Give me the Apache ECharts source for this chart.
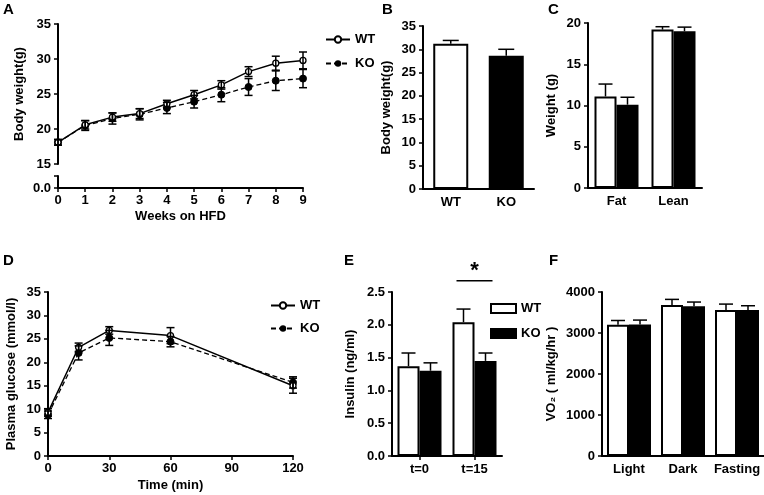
<!DOCTYPE html>
<html><head><meta charset="utf-8">
<script src="https://cdn.jsdelivr.net/npm/echarts@6/dist/echarts.min.js"></script>
<style>html,body{margin:0;padding:0;background:#fff}#c{width:764px;height:495px}</style>
</head><body><div id="c"></div>
<script>
// ---- Panel A: body weight on HFD ----
const weeks = [0, 1, 2, 3, 4, 5, 6, 7, 8, 9];
const bwWT = [18.1, 20.6, 21.7, 22.2, 23.6, 24.9, 26.3, 28.2, 29.4, 29.8];
const bwKO = [18.1, 20.5, 21.5, 22.1, 23.0, 23.9, 24.9, 26.0, 26.9, 27.2];
const bwWTErr = [0.4, 0.6, 0.6, 0.7, 0.5, 0.6, 0.6, 0.7, 1.0, 1.2];
const bwKOErr = [0.4, 0.7, 0.8, 0.8, 0.8, 0.9, 1.0, 1.2, 1.4, 1.3];
// ---- Panel B: final body weight ----
const finalCats = ['WT', 'KO'];
const finalBW = [31.2, 28.6];
const finalBWErr = [0.7, 1.4];
// ---- Panel C: body composition ----
const compCats = ['Fat', 'Lean'];
const compWT = [11.1, 19.2];
const compKO = [10.1, 19.0];
const compWTErr = [1.5, 0.35];
const compKOErr = [0.9, 0.5];
// ---- Panel D: glucose tolerance ----
const gttTimes = [0, 15, 30, 60, 120];
const gluWT = [9.3, 23.2, 26.8, 25.7, 15.0];
const gluKO = [8.8, 22.0, 25.2, 24.4, 15.7];
const gluWTErr = [0.8, 0.9, 0.8, 1.7, 1.6];
const gluKOErr = [0.8, 1.5, 1.6, 1.1, 1.2];
// ---- Panel E: insulin ----
const insCats = ['t=0', 't=15'];
const insWT = [1.37, 2.04];
const insKO = [1.30, 1.45];
const insWTErr = [0.20, 0.20];
const insKOErr = [0.12, 0.12];
const insSig = [[1, 2.67, '*']];
// ---- Panel F: VO2 ----
const vo2Cats = ['Light', 'Dark', 'Fasting'];
const vo2WT = [3200, 3680, 3560];
const vo2KO = [3210, 3650, 3560];
const vo2WTErr = [105, 140, 145];
const vo2KOErr = [105, 105, 105];

const FONT = 'Arial, "Liberation Sans", sans-serif';
const tickFont = {color: '#000', fontWeight: 'bold', fontSize: 13, fontFamily: FONT};
const nameFont = {color: '#000', fontWeight: 'bold', fontSize: 13, fontFamily: FONT};
const axLine = {show: true, lineStyle: {color: '#000', width: 2}};
const axTick = {show: true, length: 4, lineStyle: {color: '#000', width: 1.5}};

function triples(xs, m, e) { return xs.map((x, i) => [x, m[i], e[i]]); }

function errRender(offset, cap, both) {
  return function (params, api) {
    const x = api.value(0), m = api.value(1), e = api.value(2);
    const top = api.coord([x, m + e]);
    const bot = api.coord([x, both ? m - e : m]);
    const cx = top[0] + offset;
    const style = {stroke: '#000', lineWidth: 1.5};
    const ch = [
      {type: 'line', shape: {x1: cx, y1: top[1], x2: cx, y2: bot[1]}, style: style},
      {type: 'line', shape: {x1: cx - cap / 2, y1: top[1], x2: cx + cap / 2, y2: top[1]}, style: style}
    ];
    if (both) ch.push({type: 'line', shape: {x1: cx - cap / 2, y1: bot[1], x2: cx + cap / 2, y2: bot[1]}, style: style});
    return {type: 'group', children: ch};
  };
}
function errSeries(name, xi, yi, data, offset, cap, both) {
  return {type: 'custom', name: name, xAxisIndex: xi, yAxisIndex: yi, data: data,
    renderItem: errRender(offset, cap, both), encode: {x: 0, y: 1}, z: 5, silent: true, clip: false};
}
const wtBar = {color: '#fff', borderColor: '#000', borderWidth: 2};
const koBar = {color: '#000', borderColor: '#000', borderWidth: 2};
const idx = a => a.map((_, i) => i);

function valY(gi, min, max, interval, name, gap, extra) {
  return Object.assign({type: 'value', gridIndex: gi, min: min, max: max, interval: interval,
    axisLine: axLine, axisTick: axTick, splitLine: {show: false},
    axisLabel: Object.assign({margin: 7, formatter: v => String(v)}, tickFont),
    name: name, nameLocation: 'middle', nameGap: gap, nameTextStyle: nameFont}, extra || {});
}
function catX(gi, data) {
  return {type: 'category', gridIndex: gi, data: data, axisLine: axLine,
    axisTick: {show: false}, axisLabel: Object.assign({margin: 7, interval: 0}, tickFont)};
}
const legendText = {color: '#000', fontWeight: 'bold', fontSize: 13, fontFamily: FONT};

const option = {
  animation: false,
  backgroundColor: '#fff',
  title: [
    {text: 'A', left: 3, top: 2},
    {text: 'B', left: 382, top: 2},
    {text: 'C', left: 548, top: 2},
    {text: 'D', left: 3, top: 253},
    {text: 'E', left: 344, top: 253},
    {text: 'F', left: 549, top: 253}
  ].map(t => Object.assign(t, {textStyle: {color: '#000', fontWeight: 'bold', fontSize: 15, fontFamily: FONT}, padding: 0})),
  legend: [
    {data: ['WT', 'KO'], left: 320, top: 28, orient: 'vertical', itemWidth: 24, itemHeight: 8, itemGap: 11,
      textStyle: legendText, selectedMode: false},
    {data: ['D-WT', 'D-KO'], left: 265, top: 294, orient: 'vertical', itemWidth: 24, itemHeight: 8, itemGap: 10,
      formatter: n => n.replace('D-', ''), textStyle: legendText, selectedMode: false},
    {data: ['E-WT', 'E-KO'], left: 485, top: 297, orient: 'vertical', itemWidth: 25, itemHeight: 9, itemGap: 12,
      icon: 'rect', formatter: n => n.replace('E-', ''), textStyle: legendText, selectedMode: false}
  ],
  grid: [
    {left: 58, top: 24, width: 245, height: 140},   // 0 A upper
    {left: 58, top: 176, width: 245, height: 12},   // 1 A lower
    {left: 423, top: 26, width: 111, height: 163},  // 2 B
    {left: 588, top: 23, width: 114, height: 165},  // 3 C
    {left: 48, top: 292, width: 245, height: 164},  // 4 D
    {left: 392, top: 292, width: 110, height: 164}, // 5 E
    {left: 602, top: 292, width: 162, height: 164}  // 6 F
  ],
  xAxis: [
    {type: 'value', gridIndex: 0, min: 0, max: 9, show: false},
    {type: 'value', gridIndex: 1, min: 0, max: 9, interval: 1, axisLine: axLine,
      axisTick: axTick, splitLine: {show: false}, axisLabel: Object.assign({margin: 6}, tickFont),
      name: 'Weeks on HFD', nameLocation: 'middle', nameGap: 22, nameTextStyle: nameFont},
    catX(2, finalCats),
    catX(3, compCats),
    {type: 'value', gridIndex: 4, min: 0, max: 120, interval: 30, axisLine: axLine,
      axisTick: axTick, splitLine: {show: false}, axisLabel: Object.assign({margin: 6}, tickFont),
      name: 'Time (min)', nameLocation: 'middle', nameGap: 23, nameTextStyle: nameFont},
    Object.assign(catX(5, insCats), {axisTick: {show: true, alignWithLabel: true, length: 4, lineStyle: {color: '#000', width: 1.5}}}),
    catX(6, vo2Cats)
  ],
  yAxis: [
    valY(0, 15, 35, 5, 'Body weight(g)', 32),
    valY(1, 0, 1, 1, '', 0, {axisLabel: Object.assign({margin: 7, formatter: v => v === 0 ? '0.0' : ''}, tickFont)}),
    valY(2, 0, 35, 5, 'Body weight(g)', 30),
    valY(3, 0, 20, 5, 'Weight (g)', 30),
    valY(4, 0, 35, 5, 'Plasma glucose (mmol/l)', 30),
    valY(5, 0, 2.5, 0.5, 'Insulin (ng/ml)', 35, {axisLabel: Object.assign({margin: 7, formatter: v => v.toFixed(1)}, tickFont)}),
    valY(6, 0, 4000, 1000, 'VO\u2082 ( ml/kg/hr )', 44)
  ],
  series: [
    // A
    {type: 'line', name: 'KO', xAxisIndex: 0, yAxisIndex: 0, data: weeks.map((w, i) => [w, bwKO[i]]),
      symbol: 'circle', symbolSize: 7, lineStyle: {color: '#000', width: 1.3, type: [5, 3]},
      itemStyle: {color: '#000', borderColor: '#000'}, z: 3},
    {type: 'line', name: 'WT', xAxisIndex: 0, yAxisIndex: 0, data: weeks.map((w, i) => [w, bwWT[i]]),
      symbol: 'circle', symbolSize: 6, lineStyle: {color: '#000', width: 1.5},
      itemStyle: {color: '#fff', borderColor: '#000', borderWidth: 1.3}, z: 4},
    errSeries('errA1', 0, 0, triples(weeks, bwWT, bwWTErr), 0, 8, true),
    errSeries('errA2', 0, 0, triples(weeks, bwKO, bwKOErr), 0, 8, true),
    // B
    {type: 'bar', name: 'B', xAxisIndex: 2, yAxisIndex: 2, barWidth: 35,
      data: finalBW.map((v, i) => ({value: v, itemStyle: i === 0 ? wtBar : koBar}))},
    errSeries('errB', 2, 2, triples(idx(finalCats), finalBW, finalBWErr), 0, 16, false),
    // C
    {type: 'bar', name: 'C-WT', xAxisIndex: 3, yAxisIndex: 3, barWidth: 22, barGap: '0%', data: compWT, itemStyle: wtBar},
    {type: 'bar', name: 'C-KO', xAxisIndex: 3, yAxisIndex: 3, barWidth: 22, barGap: '0%', data: compKO, itemStyle: koBar},
    errSeries('errC1', 3, 3, triples(idx(compCats), compWT, compWTErr), -11, 14, false),
    errSeries('errC2', 3, 3, triples(idx(compCats), compKO, compKOErr), 11, 14, false),
    // D
    {type: 'line', name: 'D-KO', xAxisIndex: 4, yAxisIndex: 4, data: gttTimes.map((t, i) => [t, gluKO[i]]),
      symbol: 'circle', symbolSize: 7, lineStyle: {color: '#000', width: 1.3, type: [5, 3]},
      itemStyle: {color: '#000', borderColor: '#000'}, z: 3},
    {type: 'line', name: 'D-WT', xAxisIndex: 4, yAxisIndex: 4, data: gttTimes.map((t, i) => [t, gluWT[i]]),
      symbol: 'circle', symbolSize: 6, lineStyle: {color: '#000', width: 1.5},
      itemStyle: {color: '#fff', borderColor: '#000', borderWidth: 1.3}, z: 4},
    errSeries('errD1', 4, 4, triples(gttTimes, gluWT, gluWTErr), 0, 8, true),
    errSeries('errD2', 4, 4, triples(gttTimes, gluKO, gluKOErr), 0, 8, true),
    // E
    {type: 'bar', name: 'E-WT', xAxisIndex: 5, yAxisIndex: 5, barWidth: 22, barGap: '0%', data: insWT, itemStyle: wtBar},
    {type: 'bar', name: 'E-KO', xAxisIndex: 5, yAxisIndex: 5, barWidth: 22, barGap: '0%', data: insKO, itemStyle: koBar},
    errSeries('errE1', 5, 5, triples(idx(insCats), insWT, insWTErr), -11, 14, false),
    errSeries('errE2', 5, 5, triples(idx(insCats), insKO, insKOErr), 11, 14, false),
    {type: 'custom', name: 'sigE', xAxisIndex: 5, yAxisIndex: 5, data: insSig, clip: false, silent: true,
      encode: {x: 0, y: 1},
      renderItem: function (params, api) {
        const p = api.coord([api.value(0), api.value(1)]);
        return {type: 'group', children: [
          {type: 'line', shape: {x1: p[0] - 18, y1: p[1], x2: p[0] + 18, y2: p[1]}, style: {stroke: '#000', lineWidth: 1.5}},
          {type: 'text', x: p[0], y: p[1] + 1, style: {text: insSig[params.dataIndex][2], textAlign: 'center', textVerticalAlign: 'bottom',
            font: 'bold 22px ' + FONT, fill: '#000'}}
        ]};
      }},
    // F
    {type: 'bar', name: 'F-WT', xAxisIndex: 6, yAxisIndex: 6, barWidth: 22, barGap: '0%', data: vo2WT, itemStyle: wtBar},
    {type: 'bar', name: 'F-KO', xAxisIndex: 6, yAxisIndex: 6, barWidth: 22, barGap: '0%', data: vo2KO, itemStyle: koBar},
    errSeries('errF1', 6, 6, triples(idx(vo2Cats), vo2WT, vo2WTErr), -11, 14, false),
    errSeries('errF2', 6, 6, triples(idx(vo2Cats), vo2KO, vo2KOErr), 11, 14, false)
  ]
};
const chart = echarts.init(document.getElementById('c'), null, {renderer: 'canvas'});
chart.setOption(option);
</script></body></html>
